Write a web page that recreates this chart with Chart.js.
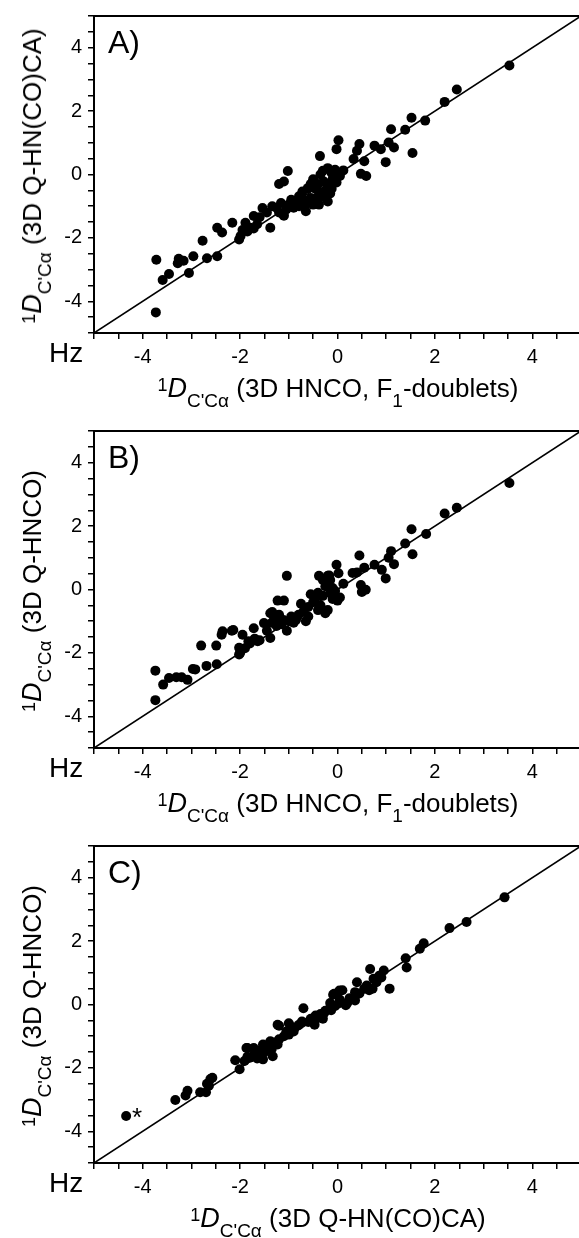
<!DOCTYPE html>
<html>
<head>
<meta charset="utf-8">
<script src="https://cdn.jsdelivr.net/npm/chart.js@4.4.1/dist/chart.umd.min.js"></script>
<style>
  body { margin: 0; background: #fff; font-family: "Liberation Sans", Arial, sans-serif; color: #000; }
  .panel { position: relative; width: 579px; height: 415px; overflow: hidden; }
  .panel.last { height: 408px; }
  .panel canvas { position: absolute; left: 0; top: 0; }
  .tag { position: absolute; left: 108px; top: 26px; font-size: 32px; line-height: 1; }
  .hz { position: absolute; left: 49px; top: 339px; font-size: 28px; line-height: 1; }
  .xt, .yt { position: absolute; font-size: 26px; line-height: 26px; white-space: nowrap; }
  .xt { left: 338px; top: 375px; transform: translateX(-50%); }
  .yt { left: 32px; top: 176px; transform: translate(-50%, -50%) rotate(-90deg); }
  .xt i, .yt i { font-size: 27px; }
  .sp { position: relative; top: -6px; font-size: 18px; line-height: 0; }
  .sb { position: relative; top: 10px; font-size: 19px; line-height: 0; }
</style>
</head>
<body>

<div class="panel">
  <canvas id="chartA" width="589" height="415"></canvas>
  <div class="tag">A)</div>
  <div class="hz">Hz</div>
  <div class="yt"><span class="sp">1</span><i>D</i><span class="sb">C'Cα</span> (3D Q-HN(CO)CA)</div>
  <div class="xt"><span class="sp">1</span><i>D</i><span class="sb">C'Cα</span> (3D HNCO, F<span class="sb">1</span>-doublets)</div>
</div>
<div class="panel">
  <canvas id="chartB" width="589" height="415"></canvas>
  <div class="tag">B)</div>
  <div class="hz">Hz</div>
  <div class="yt"><span class="sp">1</span><i>D</i><span class="sb">C'Cα</span> (3D Q-HNCO)</div>
  <div class="xt"><span class="sp">1</span><i>D</i><span class="sb">C'Cα</span> (3D HNCO, F<span class="sb">1</span>-doublets)</div>
</div>
<div class="panel last">
  <canvas id="chartC" width="589" height="408"></canvas>
  <div class="tag">C)</div>
  <div class="hz">Hz</div>
  <div class="yt"><span class="sp">1</span><i>D</i><span class="sb">C'Cα</span> (3D Q-HNCO)</div>
  <div class="xt"><span class="sp">1</span><i>D</i><span class="sb">C'Cα</span> (3D Q-HN(CO)CA)</div>
</div>

<script>
// A) HNCO F1-doublets (x) vs Q-HN(CO)CA (y)
const aX = [3.53, 2.45, 2.20, 1.80, 1.52, 1.39, 1.54, 1.10, 1.16, 1.05, 0.99, 0.89, 0.76, 0.59, 0.55, 0.45, 0.40, 0.33, 0.48, 0.12,
  0.02, -0.02, -0.36, -1.02, -1.10, -1.20, -0.05, -0.12, -0.20, -0.30, -0.35, -0.10, -0.02, -0.18, -0.28, -0.40, -0.50, -0.55, -0.12, -0.25,
  -0.38, -0.45, -0.30, -0.20, -0.38, -0.55, -0.61, -0.72, -0.79, -0.82, -0.79, -0.65, -0.65, -0.70, -0.90, -1.00, -1.05, -1.16, -1.25, -1.34,
  -1.38, -1.45, -1.54, -1.60, -1.72, -1.65, -1.79, -1.89, -1.85, -1.95, -1.99, -2.02, -2.16, -2.37, -2.47, -2.77, -2.68, -2.47, -2.96, -3.05,
  -3.16, -3.26, -3.28, -3.46, -3.59, -3.72, -3.73, -1.10, -1.20, -0.95, -0.50, -0.15, 0.05, -0.45, -1.11, -1.72, -1.87];
const aY = [3.44, 2.68, 2.29, 1.70, 1.79, 1.41, 0.68, 1.43, 0.85, 1.01, 0.39, 0.80, 0.91, -0.05, 0.42, 0.96, 0.75, 0.49, 0.02, 0.13,
  1.08, 0.80, 0.58, 0.11, -0.22, -0.30, 0.15, 0.05, 0.20, 0.12, 0.00, -0.15, -0.25, -0.30, -0.22, -0.30, -0.15, -0.30, -0.45, -0.50,
  -0.55, -0.75, -0.70, -0.85, -0.95, -0.74, -0.43, -0.54, -0.69, -0.85, -1.00, -1.16, -0.95, -0.80, -1.05, -0.95, -1.10, -0.90, -1.05, -1.00,
  -1.68, -1.20, -1.06, -1.35, -1.31, -1.57, -1.68, -1.52, -1.80, -1.75, -1.94, -2.05, -1.52, -1.83, -1.68, -2.09, -2.64, -2.58, -2.58, -3.11,
  -2.72, -2.66, -2.80, -3.14, -3.33, -2.69, -4.35, -1.30, -1.20, -0.80, -0.95, -0.60, -0.05, -0.45, -1.28, -1.70, -1.70];

// B) HNCO F1-doublets (x) vs Q-HNCO (y)
const bX = [3.53, 2.45, 2.20, 1.82, 1.52, 1.54, 1.39, 1.10, 1.16, 1.05, 0.99, 0.91, 0.76, 0.55, 0.45, 0.40, 0.31, 0.48, 0.58, 0.50,
  0.12, -0.02, 0.02, -0.38, -0.20, -1.04, -1.10, -1.23, -1.38, -1.51, -1.72, -1.95, -2.17, -2.36, -2.38, -2.80, -2.49, -2.02, -2.02, -1.83,
  -1.64, -1.38, -1.04, -1.11, -2.48, -2.69, -2.97, -3.08, -3.20, -3.31, -3.46, -3.58, -3.74, -3.74, -0.30, -0.10, -0.50, -0.60, -0.70, -0.80,
  -0.65, -0.85, -0.40, -0.25, -0.15, -0.35, -0.45, -0.20, -0.05, 0.00, -0.95, -1.20, -1.30, -1.60, -1.80, -0.25, -0.10, -0.30, -0.55, -0.75,
  -0.90, -1.00, -1.15, -1.25, -1.45, -1.90, -0.15, -0.05, 0.05, -0.40, -0.60, -1.35, -1.70, -0.17, -1.34, -2.14, -2.00, -2.92];
const bY = [3.36, 2.58, 2.40, 1.75, 1.90, 1.11, 1.45, 1.21, 0.80, 1.00, 0.35, 0.62, 0.78, 0.69, 1.07, 0.54, 0.52, 0.14, -0.01, -0.08,
  0.18, 0.78, 0.51, 0.43, 0.43, 0.43, -0.35, -0.35, -0.75, -1.06, -1.22, -1.43, -1.30, -1.32, -1.43, -1.77, -1.77, -2.05, -1.84, -1.63,
  -1.63, -1.53, -1.30, -0.96, -2.36, -2.41, -2.51, -2.85, -2.77, -2.77, -2.79, -3.00, -2.56, -3.49, -0.20, -0.30, -0.40, -0.55, -0.70, -0.80,
  -1.00, -0.95, -0.10, 0.10, -0.10, -0.50, -0.25, -0.65, -0.20, -0.35, -0.85, -0.80, -0.95, -1.60, -1.70, -0.75, 0.05, 0.30, -0.15, -0.45,
  -1.05, -1.00, -1.10, -1.15, -1.30, -1.85, 0.30, -0.05, -0.25, -0.65, -0.85, -1.05, -1.55, 0.44, -0.71, -1.28, -2.00, -2.52];

// C) Q-HN(CO)CA (x) vs Q-HNCO (y); last point is the flagged one (*)
const cX = [3.43, 2.65, 2.30, 1.77, 1.69, 1.40, 1.42, 1.07, 0.95, 0.86, 0.67, 0.74, 0.72, 0.55, 0.40, 0.36, 0.36, 0.10, -0.09, 0.17,
  0.02, -0.13, -0.28, -0.43, -0.47, -0.70, -0.73, -0.89, -1.00, -1.00, -1.23, -1.23, -1.33, -1.38, -1.53, -1.53, -1.72, -1.87, -1.80, -1.91,
  -2.01, -2.10, -2.61, -2.64, -2.70, -2.82, -3.12, -3.33, -3.08, -0.05, -0.15, -0.25, -0.35, -0.45, -0.55, -0.60, -0.80, -0.90, -1.05, -1.10,
  -1.20, -1.30, -1.40, -1.50, -1.60, -1.70, -1.65, -1.85, -1.50, 0.25, 0.20, 0.45, 0.60, 0.80, 0.90, 0.65, -0.15, 0.05, -0.30, -0.95,
  -1.35, -2.57, -2.68, -1.85, 0.04, -0.07, -1.20, -4.34];
const cY = [3.38, 2.60, 2.41, 1.93, 1.76, 1.46, 1.17, 0.50, 1.07, 0.91, 1.12, 0.81, 0.50, 0.50, 0.70, 0.39, 0.13, 0.45, 0.31, -0.02,
  0.03, -0.18, -0.28, -0.44, -0.64, -0.12, -0.54, -0.75, -0.59, -0.95, -0.64, -1.26, -1.63, -1.16, -1.26, -1.73, -1.37, -1.37, -1.68, -1.78,
  -2.04, -1.76, -2.35, -2.56, -2.77, -2.77, -2.87, -3.01, -2.72, -0.05, -0.10, -0.20, -0.30, -0.35, -0.45, -0.55, -0.65, -0.85, -0.85, -1.00,
  -1.10, -1.20, -1.25, -1.35, -1.45, -1.55, -1.70, -1.65, -1.50, 0.20, 0.05, 0.35, 0.60, 0.70, 0.85, 0.45, 0.05, 0.15, -0.45, -0.70,
  -1.40, -2.31, -2.50, -1.37, 0.44, 0.34, -0.67, -3.52];

// y = x reference line
const diagX = [-5, 5];
const diagY = [-5, 5];

const FONT = '"Liberation Sans", Arial, sans-serif';

const toPoints = (xs, ys) => xs.map((x, i) => ({ x: x, y: ys[i] }));

// top frame line + optional asterisk next to a flagged point
const framePlugin = {
  id: 'frame',
  afterDatasetsDraw(chart, args, opts) {
    const { ctx, chartArea } = chart;
    ctx.save();
    ctx.strokeStyle = '#000';
    ctx.lineWidth = 2;
    ctx.beginPath();
    ctx.moveTo(chartArea.left - 1, chartArea.top);
    ctx.lineTo(chartArea.right, chartArea.top);
    ctx.stroke();
    if (opts.star !== undefined && opts.star !== null) {
      const pt = chart.getDatasetMeta(0).data[opts.star];
      ctx.fillStyle = '#000';
      ctx.font = '26px ' + FONT;
      ctx.textAlign = 'center';
      ctx.fillText('*', pt.x + 11, pt.y + 10);
    }
    ctx.restore();
  }
};

const axis = (isX) => ({
  type: 'linear',
  min: -5,
  max: 5,
  position: isX ? 'bottom' : 'left',
  border: { color: '#000', width: 2 },
  grid: { drawOnChartArea: false, color: '#000', tickLength: 6, lineWidth: 1.5 },
  ticks: {
    stepSize: 0.5,
    autoSkip: false,
    maxRotation: 0,
    padding: isX ? 8 : 6,
    color: '#000',
    font: { family: FONT, size: 20, lineHeight: 1 },
    callback: v => (Math.abs(v % 2) < 1e-9 && Math.abs(v) < 4.9 ? String(Math.round(v)) : '')
  },
  afterFit: s => {
    if (isX) s.height = s.chart.height - 333;
    else s.width = 94;
  }
});

function drawPanel(canvasId, xs, ys, star) {
  const ctx = document.getElementById(canvasId);
  if (!ctx) return;
  return new Chart(ctx, {
    type: 'scatter',
    data: {
      datasets: [{
        data: toPoints(xs, ys),
        backgroundColor: '#000',
        borderColor: '#000',
        pointRadius: 5,
        pointBorderWidth: 0
      }, {
        data: toPoints(diagX, diagY),
        showLine: true,
        borderColor: '#000',
        borderWidth: 1.6,
        pointRadius: 0
      }]
    },
    options: {
      responsive: false,
      animation: false,
      layout: { padding: { top: 11, left: 0, right: 0, bottom: 0 } },
      plugins: {
        legend: { display: false },
        tooltip: { enabled: false },
        frame: { star: star }
      },
      scales: {
        x: axis(true),
        y: axis(false)
      }
    },
    plugins: [framePlugin]
  });
}

drawPanel('chartA', aX, aY, null);
drawPanel('chartB', bX, bY, null);
drawPanel('chartC', cX, cY, cX.length - 1);
</script>
</body>
</html>
